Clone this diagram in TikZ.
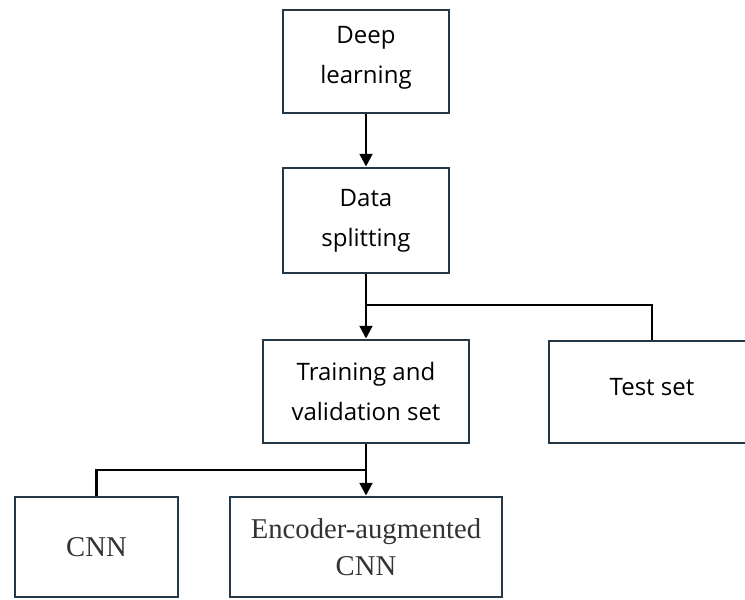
\documentclass[tikz,border=0pt]{standalone}
\usepackage{fontspec}
\setmainfont{Liberation Serif}
\newfontfamily\boxsans{Open Sans}
\usetikzlibrary{arrows.meta}
\definecolor{boxline}{HTML}{243746}
\definecolor{serifgray}{HTML}{333333}
\newcommand\liftup[2]{\raisebox{#1}[\height][\depth]{\begin{tabular}{@{}c@{}}#2\end{tabular}}}
\begin{document}
\begin{tikzpicture}[x=0.75pt,y=-0.75pt,
  stepbox/.style={draw=boxline,line width=2.2pt,fill=white,align=center,inner sep=0pt,
    font=\boxsans\fontsize{18}{30}\selectfont,text=black},
  serifbox/.style={stepbox,font=\fontsize{21.5}{27.5}\selectfont,text=serifgray},
  conn/.style={line width=2pt,black},
  arr/.style={conn,-{Triangle[length=9.5pt,width=9.5pt]}}]
\useasboundingbox (0,0) rectangle (745,599);
\clip (0,0) rectangle (745,599);
\node[stepbox,minimum width=124.5pt,minimum height=77.25pt] (deep) at (366,61.5) {\liftup{4.5pt}{Deep\\learning}};
\node[stepbox,minimum width=124.5pt,minimum height=78.75pt] (split) at (366,220.5) {Data\\splitting};
\node[stepbox,minimum width=154.5pt,minimum height=77.25pt] (train) at (366,391.5) {Training and\\validation set};
\node[stepbox,minimum width=154.5pt,minimum height=76.5pt] (test) at (652,392) {\liftup{3.5pt}{Test set}};
\node[serifbox,minimum width=122.25pt,minimum height=75pt] (cnn) at (96.5,547) {CNN};
\node[serifbox,minimum width=204pt,minimum height=75pt] (enc) at (366,547) {Encoder-augmented\\CNN};
\coordinate (b1) at (366,305);
\coordinate (b2) at (366,470);
\draw[arr] (deep.south) -- (split.north);
\draw[conn] (split.south) -- (b1);
\draw[arr] (b1) -- (train.north);
\draw[conn] (b1) -| (test.north);
\draw[conn] (train.south) -- (b2);
\draw[arr] (b2) -- (enc.north);
\draw[conn] (b2) -| (cnn.north);
\end{tikzpicture}
\end{document}
